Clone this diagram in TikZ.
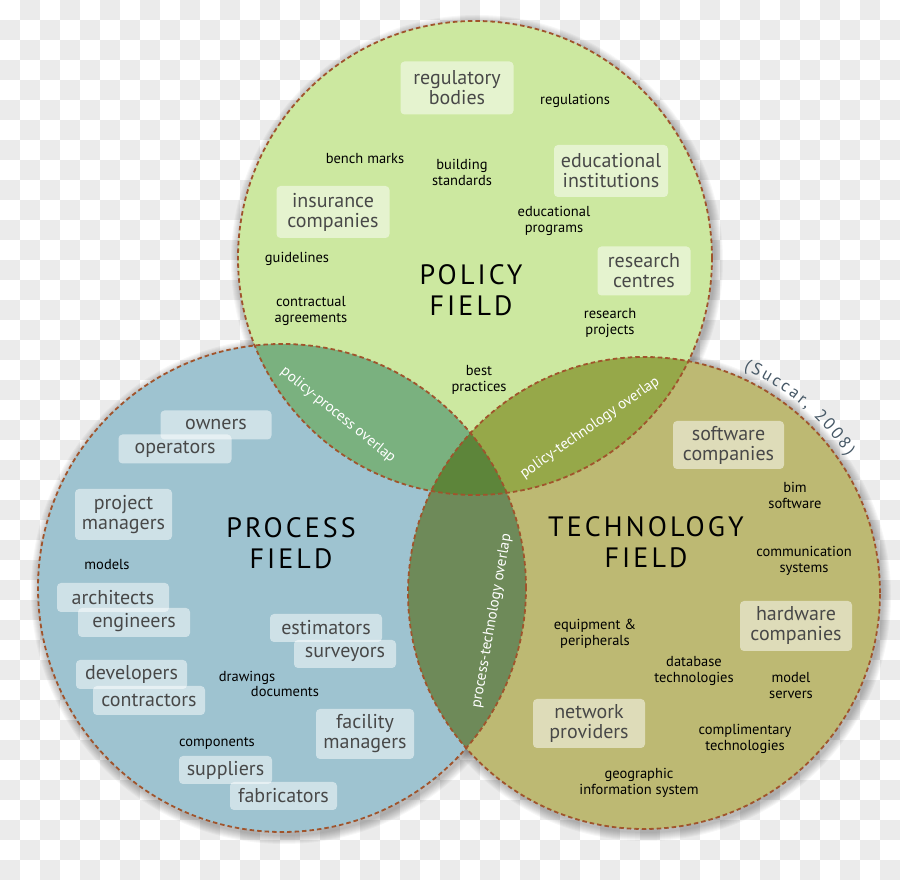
\documentclass[tikz,border=0pt]{standalone}
\usepackage{fontspec}
\setmainfont{PT Sans}
\newfontfamily\titlefont[LetterSpace=11]{PT Sans}
\newfontfamily\succarfont{PT Sans}
\usetikzlibrary{decorations.text,calc}
\definecolor{polC}{RGB}{204,232,160}
\definecolor{proC}{RGB}{158,195,208}
\definecolor{tecC}{RGB}{189,185,115}
\definecolor{ppC}{RGB}{122,177,127}
\definecolor{ptC}{RGB}{150,168,73}
\definecolor{rtC}{RGB}{110,138,89}
\definecolor{allC}{RGB}{93,133,58}
\definecolor{dashC}{RGB}{160,84,44}
\definecolor{boxtext}{RGB}{72,72,72}
\definecolor{checker}{RGB}{235,235,235}
\definecolor{succarC}{RGB}{70,88,102}
\tikzset{
  lbl/.style={align=center, inner sep=0pt, text=black, font=\fontsize{14.5}{16}\selectfont},
  bx/.style={rounded corners=4pt, inner sep=2pt, align=center, text=boxtext,
    fill=white, fill opacity=0.5, text opacity=1, font=\fontsize{20}{20}\selectfont},
  ttl/.style={align=center, inner sep=0pt, text=black, font=\titlefont\fontsize{28}{31}\selectfont},
  ovl/.style={inner sep=0pt, text=white, font=\fontsize{15}{16}\selectfont},
  outline/.style={draw=dashC, line width=1.8pt, dash pattern=on 4.5pt off 3pt},
}
\begin{document}
\begin{tikzpicture}[x=1pt,y=1pt]
\useasboundingbox (0,0) rectangle (900,880);
\fill[white] (0,0) rectangle (900,880);
\foreach \i in {0,...,44}{\foreach \j in {0,...,43}{%
  \pgfmathtruncatemacro{\s}{mod(\i+\j,2)}%
  \ifnum\s=1 \fill[checker] (20*\i,860-20*\j) rectangle ++(20,20);\fi}}
\coordinate (P) at (475,622);
\coordinate (R) at (282,292);
\coordinate (T) at (644,287);
% shadows
\foreach \k in {1,...,9}{
  \fill[black,opacity=0.03] ($(P)+(2,-3)$) circle ({237+10-\k});
  \fill[black,opacity=0.03] ($(R)+(2,-3)$) circle ({244+10-\k});
  \fill[black,opacity=0.03] ($(T)+(2,-3)$) circle ({236+10-\k});
}
% fills
\fill[polC] (P) circle (237);
\fill[proC] (R) circle (244);
\fill[tecC] (T) circle (236);
\begin{scope}\clip (P) circle (237); \fill[ppC] (R) circle (244); \end{scope}
\begin{scope}\clip (P) circle (237); \fill[ptC] (T) circle (236); \end{scope}
\begin{scope}\clip (R) circle (244); \fill[rtC] (T) circle (236); \end{scope}
\begin{scope}\clip (P) circle (237); \clip (R) circle (244); \fill[allC] (T) circle (236); \end{scope}
\draw[outline] (P) circle (237);
\draw[outline] (R) circle (244);
\draw[outline] (T) circle (236);
% overlap labels
\node[ovl, rotate=-39] (ppl) at (338,465) {policy-process overlap};
\node[ovl, rotate=35] (ptl) at (590,452) {policy-technology overlap};
\node[ovl, rotate=80] (rtl) at (492,259) {process-technology overlap};
% Succar
\path[decorate, decoration={text along path, text align={fit to path}, text color=succarC,
  text={|\succarfont\fontsize{17}{18}\selectfont|(Succar, 2008)}}]
  ($(T)+(66:245)$) arc[start angle=66, end angle=34, radius=245];
% policy field
\node[bx, minimum width=113pt, minimum height=53pt] (regb) at (457,792) {regulatory\\bodies};
\node[lbl] (regs) at (575,779) {regulations};
\node[lbl] (bench) at (365,721) {bench marks};
\node[lbl] (build) at (462,708) {building\\standards};
\node[bx, minimum width=114pt, minimum height=52pt] (edui) at (611,709) {educational\\institutions};
\node[bx, minimum width=113pt, minimum height=52pt] (insc) at (333,668) {insurance\\companies};
\node[lbl] (edup) at (554,659) {educational\\programs};
\node[lbl] (guide) at (297,621) {guidelines};
\node[ttl] (policy) at (471,590) {POLICY\\FIELD};
\node[bx, minimum width=93pt, minimum height=49pt] (resc) at (644,609) {research\\centres};
\node[lbl] (contr) at (311,569) {contractual\\agreements};
\node[lbl] (resp) at (610,557) {research\\projects};
\node[lbl] (best) at (479,500) {best\\practices};
% process field
\node[bx, minimum width=111pt, minimum height=29pt] (own) at (216,455) {owners};
\node[bx, minimum width=113pt, minimum height=29pt] (oper) at (175,431) {operators};
\node[bx, minimum width=97pt, minimum height=51pt] (pm) at (123.5,365.5) {project\\managers};
\node[ttl] (process) at (291,337) {PROCESS\\FIELD};
\node[lbl] (models) at (107,315) {models};
\node[bx, minimum width=112pt, minimum height=29pt] (arch) at (113,282.5) {architects};
\node[bx, minimum width=112pt, minimum height=29pt] (eng) at (134,257.5) {engineers};
\node[bx, minimum width=112pt, minimum height=28pt] (est) at (326,252) {estimators};
\node[bx, minimum width=102pt, minimum height=28pt] (surv) at (345,226) {surveyors};
\node[bx, minimum width=111pt, minimum height=29pt] (dev) at (131.5,205.5) {developers};
\node[bx, minimum width=112pt, minimum height=29pt] (con) at (149,179.5) {contractors};
\node[lbl] (draw) at (247,202) {drawings};
\node[lbl] (docs) at (285,188) {documents};
\node[bx, minimum width=98pt, minimum height=50pt] (fm) at (365,146) {facility\\managers};
\node[lbl] (comp) at (217,137) {components};
\node[bx, minimum width=93pt, minimum height=28pt] (sup) at (225.5,110) {suppliers};
\node[bx, minimum width=107pt, minimum height=28pt] (fab) at (283.5,84) {fabricators};
% technology field
\node[bx, minimum width=111pt, minimum height=48pt] (swc) at (728.5,435) {software\\companies};
\node[lbl] (bim) at (795,385) {bim\\software};
\node[ttl] (tech) at (646,338) {TECHNOLOGY\\FIELD};
\node[lbl] (comm) at (804,319) {communication\\systems};
\node[bx, minimum width=112pt, minimum height=50pt] (hwc) at (796,254) {hardware\\companies};
\node[lbl] (equip) at (595,246) {equipment \&\\peripherals};
\node[lbl] (db) at (694,209) {database\\technologies};
\node[lbl] (ms) at (791,194) {model\\servers};
\node[bx, minimum width=112pt, minimum height=49pt] (np) at (589,156.5) {network\\providers};
\node[lbl] (compl) at (745,141) {complimentary\\technologies};
\node[lbl] (geo) at (639,97) {geographic\\information system};
\end{tikzpicture}
\end{document}
